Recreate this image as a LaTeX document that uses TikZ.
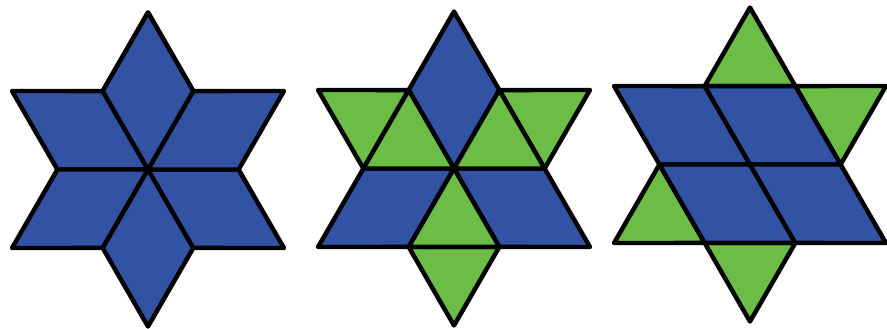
\documentclass[tikz,border=0pt]{standalone}
\usepackage{tikz}
\usetikzlibrary{calc}
\definecolor{starblue}{RGB}{50,83,164}
\definecolor{stargreen}{RGB}{108,189,69}

\begin{document}
\begin{tikzpicture}[x=0.03cm,y=0.03cm,
    bluepiece/.style={draw=black,fill=starblue,line width=3.8pt,line join=round},
    greenpiece/.style={draw=black,fill=stargreen,line width=3.8pt,line join=round}]
  \useasboundingbox (0,0) rectangle (887,328);
  \def\R{157}
  \def\r{90.6}
  % star of six rhombi
  \begin{scope}[shift={(148,158.5)}]
    \foreach \a in {90,150,...,450}
      \draw[bluepiece] (0,0) -- (\a-30:\r) -- (\a:\R) -- (\a+30:\r) -- cycle;
  \end{scope}
  % three rhombi, three pairs of triangles
  \begin{scope}[shift={(454,159.5)}]
    \foreach \a in {90,210,330}
      \draw[bluepiece] (0,0) -- (\a-30:\r) -- (\a:\R) -- (\a+30:\r) -- cycle;
    \foreach \a in {30,150,270} {
      \draw[greenpiece] (\a-30:\r) -- (\a:\R) -- (\a+30:\r) -- cycle;
      \draw[greenpiece] (0,0) -- (\a-30:\r) -- (\a+30:\r) -- cycle;
    }
  \end{scope}
  % four rhombi, four triangles
  \begin{scope}[shift={(750,163.5)}]
    \foreach \a in {30,90,210,270}
      \draw[greenpiece] (\a-30:\r) -- (\a:\R) -- (\a+30:\r) -- cycle;
    \draw[bluepiece] (0,0) -- (120:\r) -- (150:\R) -- (180:\r) -- cycle;
    \draw[bluepiece] (0,0) -- (120:\r) -- (60:\r) -- (0:\r) -- cycle;
    \draw[bluepiece] (0,0) -- (180:\r) -- (240:\r) -- (300:\r) -- cycle;
    \draw[bluepiece] (0,0) -- (300:\r) -- (330:\R) -- (0:\r) -- cycle;
  \end{scope}
\end{tikzpicture}
\end{document}
